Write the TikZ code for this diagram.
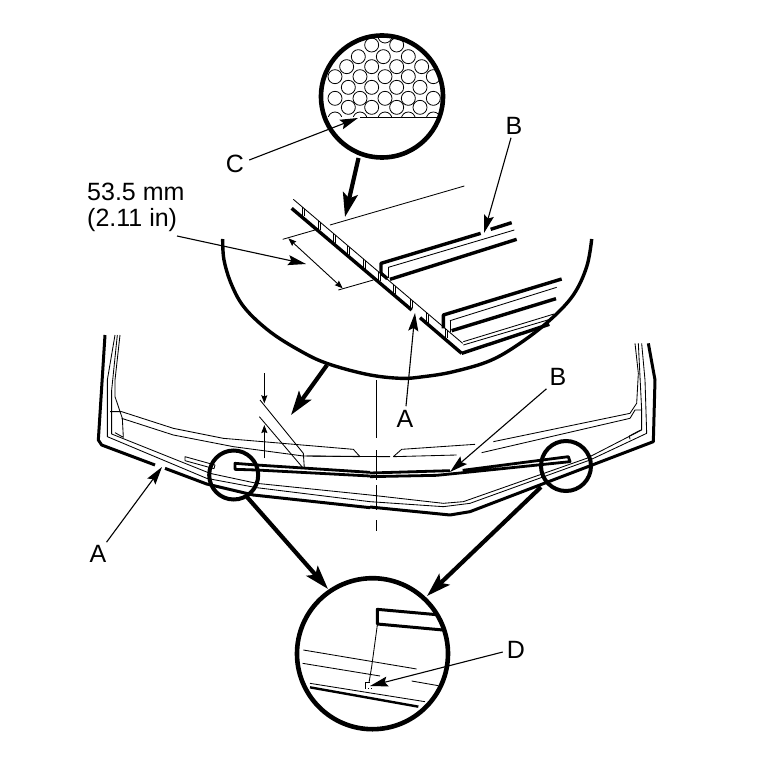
\documentclass[tikz,border=0pt]{standalone}
\usepackage{fontspec}
\setmainfont{Liberation Sans}
\usetikzlibrary{arrows.meta}
\tikzset{
  thinl/.style={line width=0.85pt,line join=round},
  thickl/.style={line width=3.4pt,line join=round},
  ringl/.style={line width=4.6pt},
  lbl/.style={font=\fontsize{25}{25.5}\selectfont,inner sep=0pt},
  bigarrow/.style={line width=4.2pt,-{Stealth[length=24pt,width=15pt,inset=5pt]}},
  leader/.style={line width=1.1pt,-{Stealth[length=18pt,width=10pt,inset=3pt]}},
  dimtip/.style={line width=0.9pt,{Stealth[length=8pt,width=6pt,inset=1pt]}-{Stealth[length=8pt,width=6pt,inset=1pt]}},
  dimone/.style={line width=0.9pt,-{Stealth[length=8pt,width=6pt,inset=1pt]}}
}
\begin{document}
\begin{tikzpicture}[x=1pt,y=-1pt]
\useasboundingbox (0,0) rectangle (768,762);
\fill[white] (0,0) rectangle (768,762);

% ---------- labels
\node[lbl] (lC) at (235,164) {C};
\node[lbl] (lBt) at (514,126) {B};
\node[lbl,align=left,anchor=north west] (ldim) at (87,183) {53.5 mm\\(2.11 in)};
\node[lbl] (lAm) at (405,419) {A};
\node[lbl] (lBm) at (558,377) {B};
\node[lbl] (lAl) at (98,554) {A};
\node[lbl] (lD) at (516,650) {D};

% ---------- honeycomb detail circle
\coordinate (cC) at (382,96.5);
\begin{scope}
\clip (cC) circle[radius=61];
\clip (270,20) rectangle (450,117);
\begin{scope}[shift={(270,20)},scale=1/3]
\foreach \p in {(305,75),(380,75),(345,48),
  (265,110),(340,110),(415,110),
  (230,140),(305,140),(380,140),(455,140),
  (195,170),(270,170),(345,170),(415,170),(490,170),
  (235,202),(305,202),(380,202),(450,202),
  (195,235),(270,235),(345,235),(415,235),(490,235),
  (235,262),(305,262),(380,262),(450,262),
  (195,297),(270,297),(345,297),(415,297),(490,297)}
  \draw[line width=0.8pt] \p circle[radius=21];
\end{scope}
\end{scope}
\begin{scope}[shift={(270,20)},scale=1/3]
\draw[thinl] (270,292) -- (510,292);
\end{scope}
\draw[ringl] (cC) circle[radius=61];
\coordinate (tC) at (358,118);
\draw[leader] (lC.east) ++(5,-4) -- (tC);

% ---------- big arrow from honeycomb circle
\coordinate (a1s) at (358.5,158);
\coordinate (a1e) at (345,217);
\draw[bigarrow] (a1s) -- (a1e);

% ---------- sector outline
\draw[line width=3.4pt] plot[smooth,tension=0.6] coordinates {
  (222.7,239) (224,260) (231.7,285) (245,308.3) (270,331.7) (300,350.7) (326.7,363.3)
  (366.7,374.3) (400,378.3) (423.3,376.7) (453.3,371.7) (490,360.7) (520,343.3)
  (550,320) (573.3,295) (586.7,266.7) (591.7,239)};

% ---------- enlarged panel
\begin{scope}[shift={(270,170)},scale=1/3]
\draw[thinl] (180,165) -- (583,48);
\draw[thinl] (38,208) -- (135,180);
\draw[thinl] (205,360) -- (310,330);
\coordinate (d1) at (55,205);
\coordinate (d2) at (218,355);
\draw[dimtip] (d1) -- (d2);
% edge of the sheet
\draw[thinl] (70,88) -- (578,520);
\draw[thickl] (65,115) -- (425,420);
\draw[thickl] (450,443) -- (575,550);
\foreach \x/\y in {97/111,145/152,190/191,233/227,280/268,325/306,370/344,420/387,470/430,525/477}{
  \draw[thinl] (\x,\y) -- (\x,\y+28);
  \draw[thinl] (\x+6,\y+5) -- (\x+6,\y+28);
}
% first channel
\draw[thickl] (360,328) -- (740,208);
\draw[thickl] (333,310) -- (333,280) -- (632,190);
\draw[thickl] (662,178) -- (725,158);
\draw[thinl] (355,292) -- (733,180);
\draw[thinl] (355,292) -- (355,325);
\draw[thickl] (333,310) -- (352,326);
% second channel
\draw[thickl] (520,475) -- (520,435) -- (875,327);
\draw[thinl] (540,452) -- (860,352);
\draw[thinl] (540,452) -- (540,485);
\draw[thickl] (545,482) -- (858,386);
\draw[thinl] (580,515) -- (852,432);
\draw[thinl] (580,525) -- (850,445);
\draw[thickl] (575,550) -- (838,463);
\end{scope}
\coordinate (tdim) at (306,264);
\draw[leader] (177,236) -- (tdim);
\coordinate (tB1) at (484,233);
\draw[leader] (lBt.south) ++(-3,3) -- (tB1);
\coordinate (tA1) at (415,313);
\draw[leader] (lAm.north) ++(1,-4) -- (tA1);

% ---------- big arrow to windshield
\coordinate (a2s) at (327,365);
\coordinate (a2e) at (291,415);
\draw[bigarrow] (a2s) -- (a2e);

% ---------- centre line
\draw[line width=1pt,dash pattern=on 58pt off 12pt on 30pt off 5pt on 25pt off 10pt on 11pt off 20pt] (376,380) -- (376,531);

% ---------- windshield, left half
\begin{scope}[shift={(90,330)},scale=1/3]
\draw[line width=3pt,line join=round] (45,15) -- (25,330) -- (35,345) -- (195,405);
\draw[line width=3pt,line join=round] (225,415) -- (350,462) -- (490,495) -- (840,533);
\draw[thinl] (75,15) -- (52,150) -- (52,320) -- (350,445) -- (500,473) -- (840,515);
\draw[thinl] (82,15) -- (65,180) -- (65,312) -- (360,430) -- (500,460) -- (840,495);
\draw[thinl] (90,15) -- (75,150) -- (75,200) -- (97,265) -- (100,322) -- (75,308);
\draw[thinl] (60,245) -- (95,245) -- (250,295) -- (400,325) -- (790,358) -- (810,380) -- (650,378);
\draw[thinl] (95,265) -- (250,315) -- (430,350) -- (640,378) -- (900,380);
% small part
\draw[thinl] (285,392) -- (285,380) -- (375,405) -- (372,416) -- (285,392);
% dimension
\draw[thinl] (510,210) -- (640,370) -- (643,415);
\draw[thinl] (508,260) -- (640,415);
\coordinate (v0) at (523,130);
\coordinate (v1) at (523,220);
\coordinate (v2) at (523,385);
\coordinate (v3) at (523,285);
\draw[dimone] (v0) -- (v1);
\draw[dimone] (v2) -- (v3);
% strip B, left
\draw[line width=2.8pt,line join=round] (840,427) -- (500,405) -- (435,400) -- (435,418) -- (500,420) -- (840,438);
\end{scope}

% ---------- windshield, right half
\begin{scope}[shift={(370,330)},scale=1/3]
\draw[line width=3pt,line join=round] (0,531) -- (240,555) -- (300,545) -- (850,335) -- (855,150) -- (835,40);
\draw[thinl] (795,40) -- (805,130) -- (800,220) -- (780,250) -- (370,335);
\draw[thinl] (780,265) -- (335,368);
\draw[thinl] (780,265) -- (795,240) -- (815,240);
\draw[thinl] (70,380) -- (95,358) -- (315,343);
\draw[thinl] (70,380) -- (260,375);
\draw[thinl] (815,40) -- (825,150) -- (830,310) -- (660,390) -- (300,520) -- (220,530) -- (0,515);
\draw[thinl] (805,40) -- (815,240) -- (815,300) -- (650,385) -- (280,515) -- (220,520) -- (0,495);
\draw[thinl] (780,328) -- (778,318) -- (812,300);
% strip B, right
\draw[line width=2.8pt,line join=round] (0,429) -- (240,422);
\draw[line width=2.8pt,line join=round] (278,421) -- (595,380) -- (600,395) -- (280,428) -- (200,436) -- (0,440);
\end{scope}

% ---------- leaders to windshield
\coordinate (tB2) at (450,472);
\draw[leader] (lBm.south west) ++(-3,3) -- (tB2);
\coordinate (tA2) at (162,467);
\draw[leader] (lAl.north east) ++(0,-3) -- (tA2);

% ---------- small circles
\node[draw,circle,line width=4pt,minimum size=49pt,inner sep=0pt] (cL) at (233.7,475) {};
\node[draw,circle,line width=4pt,minimum size=50pt,inner sep=0pt] (cR) at (566,466) {};

% ---------- bottom detail circle
\coordinate (cB) at (372.5,653.7);
\begin{scope}
\clip (cB) circle[radius=75];
\begin{scope}[shift={(290,570)},scale=1/3]
\draw[line width=3pt,line join=round] (440,134) -- (262,118) -- (262,162) -- (470,181);
\draw[thinl] (262,165) -- (245,290) -- (237,338);
\draw[thinl] (40,240) -- (380,297);
\draw[thinl] (38,280) -- (270,318);
\draw[thinl] (365,333) -- (445,347);
\draw[thinl] (60,340) -- (405,395);
\draw[line width=2.4pt] (60,352) -- (385,410);
\draw[line width=1pt] (240,338) -- (226,338) -- (226,354);
\draw[line width=1pt,dotted] (226,354) -- (245,354);
\end{scope}
\end{scope}
\draw[ringl] (cB) circle[radius=75.5];
\coordinate (tD) at (370,686);
\draw[leader] (lD.west) ++(-4,2) -- (tD);

% ---------- big arrows to bottom circle
\coordinate (a3s) at (247,497);
\coordinate (a3e) at (328,589);
\coordinate (a4s) at (541,487);
\coordinate (a4e) at (427,596);
\draw[bigarrow] (a3s) -- (a3e);
\draw[bigarrow] (a4s) -- (a4e);
\end{tikzpicture}
\end{document}
